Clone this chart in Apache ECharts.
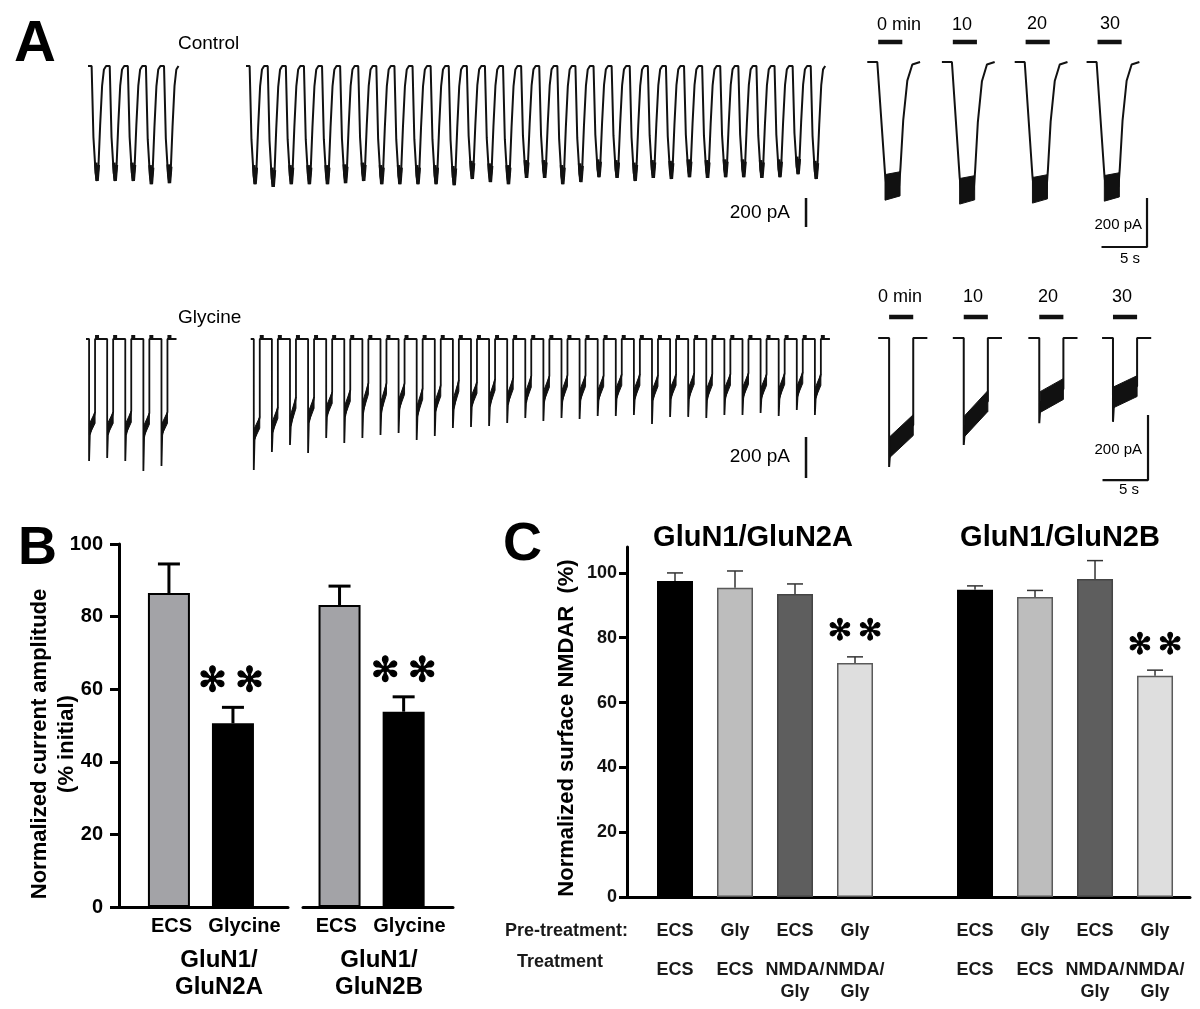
<!DOCTYPE html>
<html>
<head>
<meta charset="utf-8">
<title>Glycine priming of NMDAR internalization</title>
<script src="https://cdn.jsdelivr.net/npm/echarts@6.0.0/dist/echarts.min.js"></script>
<style>
html,body{margin:0;padding:0;background:#ffffff;}
#chart{width:1200px;height:1009px;}
</style>
</head>
<body>
<div id="chart"></div>
<script>
// ================= DATA =================
// Panel A – NMDAR current sweeps, amplitudes in pA
const ctrlBaselineAmp = [793, 793, 793, 814, 807];
const ctrlAfterAmp = [814, 834, 814, 814, 814, 807, 793, 814, 814, 814, 814, 821, 779, 800, 814, 772,
                      772, 814, 800, 766, 772, 793, 772, 779, 766, 772, 766, 766, 772, 766, 745, 779];
const glyBaselinePeak = [595, 580, 595, 644, 620];
const glyBaselineSSStart = [468, 468, 468, 478, 468];
const glyBaselineSSEnd = [356, 356, 351, 361, 356];
const glyAfterPeak = [639, 551, 517, 556, 483, 507, 483, 468, 459, 493, 473, 434, 429, 424, 410, 385,
                      400, 385, 390, 376, 376, 371, 415, 380, 380, 385, 371, 371, 361, 376, 346, 371];
const glyAfterSSStart = [493, 459, 429, 410, 380, 380, 361, 361, 346, 380, 356, 346, 332, 332, 322, 312,
                         307, 307, 302, 302, 293, 298, 302, 293, 293, 298, 293, 288, 293, 293, 283, 293];
const glyAfterSSEnd = [380, 332, 283, 283, 259, 249, 215, 215, 215, 239, 224, 200, 210, 195, 190, 180,
                       180, 176, 176, 176, 171, 171, 176, 171, 166, 171, 171, 166, 171, 166, 161, 171];
// Panel A – example sweeps on an expanded time base
const zoomTimeLabels = ['0 min', '10', '20', '30'];
const ctrlZoomAmp = [506, 522, 518, 510];
const glyZoomPeak = [397, 329, 262, 258];
const glyZoomSSStart = [335, 271, 197, 182];
const glyZoomSSEnd = [268, 194, 157, 148];
const scaleBarCurrent = 200; // pA
const scaleBarTime = 5;      // s
const scaleBarLabel = '200 pA';
const scaleBarTimeLabel = '5 s';
const rowLabels = ['Control', 'Glycine'];

// Panel B – normalized current amplitude (% initial)
const bConditions = ['ECS', 'Glycine'];
const bReceptorLabels = [['GluN1/', 'GluN2A'], ['GluN1/', 'GluN2B']];
const bMean2A = [86.5, 50.6];
const bSem2A = [8.0, 4.4];
const bMean2B = [83.2, 53.8];
const bSem2B = [5.2, 4.1];
const bSig2A = ['', '**'];
const bSig2B = ['', '**'];
const bTicks = [0, 20, 40, 60, 80, 100];
const bYTitle = ['Normalized current amplitude', '(% initial)'];

// Panel C – normalized surface NMDAR (%)
const cReceptors = ['GluN1/GluN2A', 'GluN1/GluN2B'];
const cPreTreatment = ['ECS', 'Gly', 'ECS', 'Gly'];
const cTreatment = ['ECS', 'ECS', 'NMDA/\nGly', 'NMDA/\nGly'];
const cMean2A = [97.5, 95.4, 93.5, 72.2];
const cSem2A = [2.5, 5.2, 3.1, 1.9];
const cMean2B = [94.8, 92.6, 98.1, 68.3];
const cSem2B = [1.2, 2.0, 5.7, 1.7];
const cSig2A = ['', '', '', '**'];
const cSig2B = ['', '', '', '**'];
const cTicks = [0, 20, 40, 60, 80, 100];
const cYTitle = 'Normalized surface NMDAR  (%)';
const cRowHeaders = ['Pre-treatment:', 'Treatment'];

// ================= STYLE / LAYOUT =================
const FONT = '"Liberation Sans", Arial, Helvetica, sans-serif';
const INK = '#111111';
const grids = [], xAxes = [], yAxes = [], series = [], graphic = [];

function traceGrid(left, top, width, height, baseY, pxPerX, pxPerY) {
  const i = grids.length;
  grids.push({left: left, top: top, width: width, height: height});
  xAxes.push({type: 'value', gridIndex: i, min: 0, max: width / pxPerX, show: false});
  yAxes.push({type: 'value', gridIndex: i, min: -(top + height - baseY) / pxPerY, max: (baseY - top) / pxPerY, show: false});
  return i;
}
function line(gi, data, width, color) {
  series.push({type: 'line', xAxisIndex: gi, yAxisIndex: gi, data: data, symbol: 'none', showSymbol: false,
    silent: true, animation: false, clip: false, connectNulls: false, z: 3,
    lineStyle: {color: color || INK, width: width, cap: 'butt', join: 'bevel'}});
}
// noisy current bands: [x0, yUpper0, yLower0, x1, yUpper1, yLower1]
function bands(gi, items) {
  series.push({type: 'custom', xAxisIndex: gi, yAxisIndex: gi, silent: true, animation: false, clip: false, z: 4,
    data: items,
    renderItem: function (params, api) {
      const pts = [api.coord([api.value(0), api.value(1)]), api.coord([api.value(3), api.value(4)]),
                   api.coord([api.value(3), api.value(5)]), api.coord([api.value(0), api.value(2)])];
      return {type: 'polygon', shape: {points: pts}, style: {fill: INK, stroke: INK, lineWidth: 1}};
    }});
}
function txt(text, x, y, size, o) {
  o = o || {};
  const al = o.align || 'center';
  graphic.push({type: 'text', x: x, y: y, rotation: o.rot || 0, silent: true, z: 20,
    style: {text: text, fill: o.color || '#000', fontSize: size, fontWeight: o.bold ? 'bold' : 'normal',
      fontFamily: o.family || FONT, align: al, verticalAlign: 'middle', textAlign: al, textVerticalAlign: 'middle'}});
}

// ---------- Panel A : long recordings ----------
const gCtrl = traceGrid(88, 30, 742, 210, 66, 18.1, 0.145);
const gGly = traceGrid(86, 300, 742, 195, 339, 18.1, 0.205);
const ctrlStarts = [0, 8.73];
const glyStarts = [0, 9.1];

function ctrlShape(s, A) {
  return [[s, 0], [s + 0.2, 0], [s + 0.3, -0.62 * A], [s + 0.42, -0.93 * A], [s + 0.5, -A], [s + 0.57, -0.9 * A],
          [s + 0.67, -0.52 * A], [s + 0.78, -0.17 * A], [s + 0.88, -0.03 * A], [s + 1, 0]];
}
[ctrlBaselineAmp, ctrlAfterAmp].forEach(function (amps, g) {
  const thin = [], thick = [];
  amps.forEach(function (A, k) {
    const s = ctrlStarts[g] + k;
    thin.push.apply(thin, ctrlShape(s, A));
    thick.push([s + 0.43, -0.84 * A], [s + 0.5, -A], [s + 0.57, -0.86 * A], [s + 0.57, '-']);
  });
  line(gCtrl, thin, 2);
  line(gCtrl, thick, 3.5);
});

function glyShape(s, P, S0, S1) {
  return [[s, 0], [s + 0.17, 0], [s + 0.17, -P], [s + 0.21, -S0], [s + 0.5, -S1], [s + 0.5, 0], [s + 1, 0]];
}
const glyRowNoise = 55; // pA, vertical width of the noisy plateau edge
[[glyBaselinePeak, glyBaselineSSStart, glyBaselineSSEnd], [glyAfterPeak, glyAfterSSStart, glyAfterSSEnd]].forEach(function (set, g) {
  const thin = [], hooks = [], blobs = [];
  set[0].forEach(function (P, k) {
    const s = glyStarts[g] + k, S0 = set[1][k], S1 = set[2][k];
    thin.push.apply(thin, glyShape(s, P, S0, S1));
    hooks.push([s + 0.5, 10], [s + 0.72, 10], [s + 0.72, '-']);
    blobs.push([s + 0.19, -(S0 - glyRowNoise), -S0, s + 0.5, -S1, -(S1 + glyRowNoise)]);
  });
  line(gGly, thin, 1.8);
  line(gGly, hooks, 4);
  bands(gGly, blobs);
});
// scale bars (200 pA)
line(gCtrl, [[39.67, -1110 + scaleBarCurrent], [39.67, -1110]], 2.5);
line(gGly, [[39.78, -678 + scaleBarCurrent], [39.78, -678]], 2.5);

// ---------- Panel A : expanded sweeps ----------
const gCtrlZ = traceGrid(860, 10, 300, 260, 62, 9.1, 0.245);
const gGlyZ = traceGrid(860, 280, 300, 220, 338, 9.1, 0.325);
const ctrlZoomOffsets = [0.8, 9.0, 17.0, 24.9];
const glyZoomOffsets = [2.0, 10.2, 18.5, 26.6];
const ctrlZoomNoise = 58, glyZoomNoise = 32; // pA half-widths of noise bands

const ctrlTroughs = [];
ctrlZoomAmp.forEach(function (A, i) {
  const t = ctrlZoomOffsets[i];
  line(gCtrlZ, [[t, 0], [t + 1.1, 0], [t + 1.95, -0.9 * A], [t + 2.1, -A], [t + 3.5, -A], [t + 3.65, -0.85 * A],
                [t + 3.95, -0.47 * A], [t + 4.4, -0.15 * A], [t + 4.95, -0.02 * A], [t + 5.8, 0]], 2);
  ctrlTroughs.push([t + 1.95, -A + ctrlZoomNoise * 0.8, -A - ctrlZoomNoise, t + 3.6, -A + ctrlZoomNoise, -A - ctrlZoomNoise * 0.7]);
  line(gCtrlZ, [[t + 1.2, 82], [t + 3.85, 82]], 4.5);
});
bands(gCtrlZ, ctrlTroughs);
const glyPlateaus = [];
glyZoomPeak.forEach(function (P, i) {
  const t = glyZoomOffsets[i], S0 = glyZoomSSStart[i], S1 = glyZoomSSEnd[i];
  line(gGlyZ, [[t, 0], [t + 1.2, 0], [t + 1.2, -P], [t + 1.35, -S0], [t + 3.85, -S1], [t + 3.85, 0], [t + 5.4, 0]], 2);
  glyPlateaus.push([t + 1.3, -S0 + glyZoomNoise, -S0 - glyZoomNoise, t + 3.85, -S1 + glyZoomNoise, -S1 - glyZoomNoise]);
  line(gGlyZ, [[t + 1.2, 65], [t + 3.85, 65]], 4.5);
});
bands(gGlyZ, glyPlateaus);
line(gCtrlZ, [[31.54, -755 + scaleBarCurrent], [31.54, -755], [31.54 - scaleBarTime, -755]], 2.2);
line(gGlyZ, [[31.65, -437 + scaleBarCurrent], [31.65, -437], [31.65 - scaleBarTime, -437]], 2.2);

// Panel A texts
txt('A', 14, 45, 58, {bold: true, align: 'left'});
txt(rowLabels[0], 178, 44, 19, {align: 'left'});
txt(rowLabels[1], 178, 318, 19, {align: 'left'});
txt(scaleBarLabel, 790, 213, 19, {align: 'right'});
txt(scaleBarLabel, 790, 457, 19, {align: 'right'});
txt(zoomTimeLabels[0], 877, 25, 18, {align: 'left'});
txt(zoomTimeLabels[1], 962, 25, 18);
txt(zoomTimeLabels[2], 1037, 24, 18);
txt(zoomTimeLabels[3], 1110, 24, 18);
txt(zoomTimeLabels[0], 900, 297, 18);
txt(zoomTimeLabels[1], 973, 297, 18);
txt(zoomTimeLabels[2], 1048, 297, 18);
txt(zoomTimeLabels[3], 1122, 297, 18);
txt(scaleBarLabel, 1142, 225, 15, {align: 'right'});
txt(scaleBarTimeLabel, 1130, 259, 15);
txt(scaleBarLabel, 1142, 450, 15, {align: 'right'});
txt(scaleBarTimeLabel, 1129, 490, 15);

// ---------- bar helpers ----------
function errorBars(gi, positions, means, sems, sigs, st) {
  series.push({
    type: 'custom', xAxisIndex: gi, yAxisIndex: gi, silent: true, animation: false, clip: false, z: 6,
    data: positions.map(function (p, i) { return [p, means[i], sems[i]]; }),
    renderItem: function (params, api) {
      const x = api.value(0), m = api.value(1), e = api.value(2);
      const a = api.coord([x, m]), b = api.coord([x, m + e]);
      const ch = [
        {type: 'line', shape: {x1: a[0], y1: a[1], x2: b[0], y2: b[1]}, style: {stroke: st.color, lineWidth: st.lw}},
        {type: 'line', shape: {x1: b[0] - st.cap / 2, y1: b[1], x2: b[0] + st.cap / 2, y2: b[1]}, style: {stroke: st.color, lineWidth: st.lw}}
      ];
      const s = sigs[params.dataIndex];
      if (s) {
        ch.push({type: 'text', x: b[0] + (st.sigDx || 0), y: b[1] - st.sigGap,
          style: {text: s.split('').map(function () { return '\u273B'; }).join(st.sigSep), fill: '#000',
            stroke: '#000', lineWidth: st.sigStroke,
            fontSize: st.sigSize, fontFamily: '"DejaVu Sans"',
            align: 'center', verticalAlign: 'middle', textAlign: 'center', textVerticalAlign: 'middle'}});
      }
      return {type: 'group', children: ch};
    }
  });
}
function bars(gi, positions, means, colors, st) {
  series.push({
    type: 'bar', xAxisIndex: gi, yAxisIndex: gi, silent: true, animation: false, barWidth: st.width, z: 4,
    data: positions.map(function (p, i) {
      return {value: [p, means[i]], itemStyle: {color: colors[i], borderColor: st.border[i], borderWidth: st.bw}};
    })
  });
}

// ---------- Panel B ----------
function bGrid(left, width, xmin, xmax, showY, labelPos) {
  const i = grids.length;
  grids.push({left: left, top: 544, width: width, height: 363});
  xAxes.push({type: 'value', gridIndex: i, min: xmin, max: xmax,
    axisLine: {show: true, onZero: false, lineStyle: {color: '#000', width: 3}},
    axisTick: {show: false}, splitLine: {show: false},
    axisLabel: {customValues: labelPos, formatter: function (v) { return bConditions[Math.round(v)]; },
      fontSize: 20, fontWeight: 'bold', color: '#000', fontFamily: FONT, margin: 9}});
  yAxes.push({type: 'value', gridIndex: i, min: 0, max: 100, interval: 20, show: showY,
    axisLine: {show: true, onZero: false, lineStyle: {color: '#000', width: 3}},
    axisTick: {show: true, length: 9, customValues: bTicks, lineStyle: {color: '#000', width: 3}},
    axisLabel: {customValues: bTicks, fontSize: 20, fontWeight: 'bold', color: '#000', fontFamily: FONT, margin: 16},
    splitLine: {show: false}});
  return i;
}
const gB1 = bGrid(119, 169, -0.78, 1.86, true, [0.04, 1.18]);
const gB2 = bGrid(303, 150, -0.57, 1.77, false, [-0.05, 1.09]);
const bPos = [0, 1];
const bColors = ['#a3a3a7', '#000000'];
const bStyle = {width: 42, border: ['#000', '#000'], bw: 2};
const bErr = {color: '#000', lw: 3, cap: 22, sigGap: 25, sigSize: 34, sigSep: '\u2005', sigStroke: 1.2};
bars(gB1, bPos, bMean2A, bColors, bStyle);
bars(gB2, bPos, bMean2B, bColors, bStyle);
errorBars(gB1, bPos, bMean2A, bSem2A, bSig2A, Object.assign({}, bErr, {sigDx: -2}));
errorBars(gB2, bPos, bMean2B, bSem2B, bSig2B, bErr);

txt('B', 18, 549, 54, {bold: true, align: 'left'});
txt(bYTitle[0], 40, 744, 22, {bold: true, rot: Math.PI / 2});
txt(bYTitle[1], 67, 744, 22, {bold: true, rot: Math.PI / 2});
txt(bReceptorLabels[0][0], 219, 960, 24, {bold: true});
txt(bReceptorLabels[0][1], 219, 987, 24, {bold: true});
txt(bReceptorLabels[1][0], 379, 960, 24, {bold: true});
txt(bReceptorLabels[1][1], 379, 987, 24, {bold: true});

// ---------- Panel C ----------
const gC = grids.length;
const cPos = [0, 1, 2, 3, 5, 6, 7, 8];
grids.push({left: 627, top: 547, width: 563, height: 350});
xAxes.push({type: 'value', gridIndex: gC, min: -0.8, max: 8.583,
  axisLine: {show: true, onZero: false, lineStyle: {color: '#000', width: 3}},
  axisTick: {show: false}, splitLine: {show: false},
  axisLabel: {customValues: cPos, margin: 6,
    formatter: function (v) {
      const i = cPos.indexOf(Math.round(v));
      if (i < 0) return '';
      const j = i % 4;
      return '{p|' + cPreTreatment[j] + '}\n' + cTreatment[j].split('\n').map(function (s) { return '{t|' + s + '}'; }).join('\n');
    },
    rich: {
      p: {fontSize: 18, fontWeight: 'bold', lineHeight: 56, color: '#1a1a1a', fontFamily: FONT},
      t: {fontSize: 18, fontWeight: 'bold', lineHeight: 22, color: '#1a1a1a', fontFamily: FONT}
    }}});
yAxes.push({type: 'value', gridIndex: gC, min: 0, max: 108, interval: 20,
  axisLine: {show: true, onZero: false, lineStyle: {color: '#000', width: 3}},
  axisTick: {show: true, length: 8, customValues: cTicks, lineStyle: {color: '#000', width: 3}},
  axisLabel: {customValues: cTicks, fontSize: 18, fontWeight: 'bold', color: '#111', fontFamily: FONT, margin: 10},
  splitLine: {show: false}});
const cColors = ['#000000', '#bdbdbd', '#5e5e5e', '#dedede'];
const cBorders = ['#000000', '#5a5a5a', '#444444', '#5a5a5a'];
const cStyle = {width: 36, border: cBorders.concat(cBorders), bw: 1.5};
const cErr = {color: '#333', lw: 1.5, cap: 16, sigGap: 24, sigSize: 29, sigSep: '\u2009', sigStroke: 1};
const cMeanAll = cMean2A.concat(cMean2B);
const cSemAll = cSem2A.concat(cSem2B);
const cSigAll = cSig2A.concat(cSig2B);
bars(gC, cPos, cMeanAll, cColors.concat(cColors), cStyle);
errorBars(gC, cPos, cMeanAll, cSemAll, cSigAll, cErr);

txt('C', 503, 545, 54, {bold: true, align: 'left'});
txt(cReceptors[0], 753, 538, 29, {bold: true});
txt(cReceptors[1], 1060, 538, 29, {bold: true});
txt(cYTitle, 567, 728, 22, {bold: true, rot: Math.PI / 2});
txt(cRowHeaders[0], 505, 931, 18, {bold: true, align: 'left', color: '#1a1a1a'});
txt(cRowHeaders[1], 517, 962, 18, {bold: true, align: 'left', color: '#1a1a1a'});

// ================= RENDER =================
const chart = echarts.init(document.getElementById('chart'), null, {renderer: 'canvas'});
chart.setOption({
  animation: false,
  backgroundColor: '#ffffff',
  textStyle: {fontFamily: FONT},
  grid: grids,
  xAxis: xAxes,
  yAxis: yAxes,
  series: series,
  graphic: graphic
});
</script>
</body>
</html>
